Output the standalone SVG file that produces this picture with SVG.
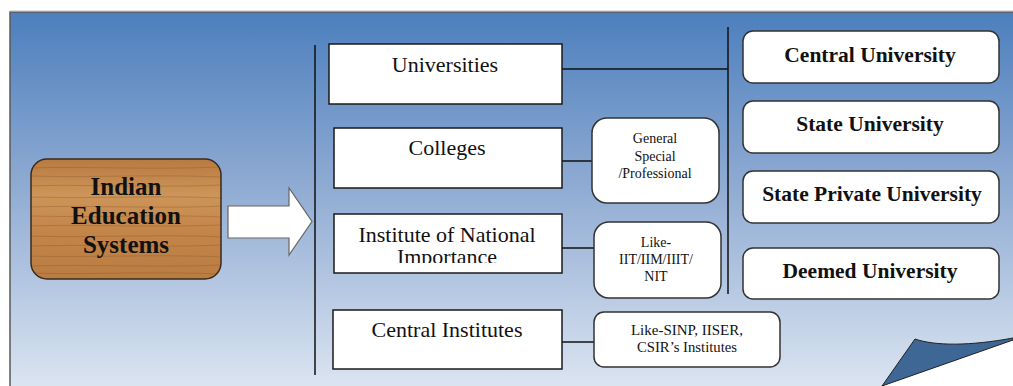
<svg xmlns="http://www.w3.org/2000/svg" width="1013" height="386" viewBox="0 0 1013 386">
<defs>
<linearGradient id="bg" x1="0" y1="0" x2="0" y2="1">
<stop offset="0" stop-color="#4c7fbd"/>
<stop offset="0.45" stop-color="#8eaad2"/>
<stop offset="1" stop-color="#dde6f2"/>
</linearGradient>
<linearGradient id="wood" x1="0" y1="0" x2="0" y2="1">
<stop offset="0" stop-color="#b87a40"/>
<stop offset="0.3" stop-color="#cd9559"/>
<stop offset="0.6" stop-color="#c48549"/>
<stop offset="1" stop-color="#b97c42"/>
</linearGradient>
<clipPath id="woodclip"><rect x="31" y="159" width="190" height="120" rx="16"/></clipPath>
<clipPath id="iniclip"><rect x="334" y="214" width="228" height="49"/></clipPath>
<style>
.rect{fill:#fff;stroke:#1a1a1a;stroke-width:1.5}
.rbox{fill:#fff;stroke:#333;stroke-width:1.5}
.conn{stroke:#111;stroke-width:1.5;fill:none}
.t{font-family:'Liberation Serif','Times New Roman','DejaVu Serif',serif;fill:#111;text-anchor:middle}
.big{font-size:22px}
.small{font-size:14px}
.bold{font-weight:bold;font-size:21.5px}
.grain{stroke:#8a5528;stroke-opacity:0.35;stroke-width:1;fill:none}
</style>
</defs>
<rect width="1013" height="386" fill="#fff"/>
<rect x="10" y="12" width="1010" height="380" fill="url(#bg)" stroke="#5a5a5a" stroke-width="1.5"/>
<line x1="10" y1="11" x2="1013" y2="11" stroke="#bbb" stroke-width="1"/>
<path d="M882,386 L1013,340 L1013,386 Z" fill="#fff"/>
<path d="M882,386 L915,339 C935,346 970,346 1013,338 L1013,340 Z" fill="#3e6796" stroke="#222" stroke-width="1"/>

<g id="connectors">
<line class="conn" x1="315" y1="45" x2="315" y2="375"/>
<line class="conn" x1="728" y1="27" x2="728" y2="294"/>
<line class="conn" x1="562" y1="69" x2="728" y2="69"/>
<line class="conn" x1="562" y1="161" x2="592" y2="161"/>
<line class="conn" x1="562" y1="248" x2="594" y2="248"/>
<line class="conn" x1="562" y1="342" x2="594" y2="342"/>
<path d="M228,206 L289,206 L289,188 L312,221.5 L289,255 L289,238 L228,238 Z" fill="#fff" stroke="#666" stroke-width="1.2"/>
</g>

<g id="indian-education">
<rect x="31" y="159" width="190" height="120" rx="16" fill="url(#wood)"/>
<g clip-path="url(#woodclip)" class="grain">
<path d="M31,168 C80,166 140,170 221,167"/>
<path d="M31,176 C90,178 150,174 221,177"/>
<path d="M31,186 C70,184 160,188 221,185"/>
<path d="M31,197 C100,199 150,195 221,198"/>
<path d="M31,207 C80,205 170,209 221,206"/>
<path d="M31,216 C110,218 150,214 221,217"/>
<path d="M31,226 C90,224 140,228 221,225"/>
<path d="M31,236 C80,238 170,234 221,237"/>
<path d="M31,246 C120,244 150,248 221,245"/>
<path d="M31,256 C70,258 160,254 221,257"/>
<path d="M31,266 C100,264 150,268 221,265"/>
<path d="M31,273 C90,275 140,271 221,274"/>
</g>
<rect x="31" y="159" width="190" height="120" rx="16" fill="none" stroke="#3b2a1a" stroke-width="1.5"/>
<text class="t" x="126" y="195" font-size="25" font-weight="bold">Indian</text>
<text class="t" x="126" y="224" font-size="25" font-weight="bold">Education</text>
<text class="t" x="126" y="253" font-size="25" font-weight="bold">Systems</text>
</g>

<g id="universities">
<rect class="rect" x="329" y="44" width="233" height="60"/>
<text class="t big" x="445" y="72">Universities</text>
</g>
<g id="colleges">
<rect class="rect" x="334" y="128" width="228" height="60"/>
<text class="t big" x="447" y="155">Colleges</text>
</g>
<g id="ini">
<rect class="rect" x="334" y="214" width="228" height="59"/>
<text class="t big" x="447" y="242">Institute of National</text>
<text class="t big" x="447" y="264" clip-path="url(#iniclip)">Importance</text>
</g>
<g id="central-institutes">
<rect class="rect" x="333" y="310" width="229" height="59"/>
<text class="t big" x="447" y="337">Central Institutes</text>
</g>

<g id="college-types">
<rect class="rbox" x="592" y="118" width="127" height="85" rx="15"/>
<text class="t small" x="655" y="143">General</text>
<text class="t small" x="655" y="161">Special</text>
<text class="t small" x="655" y="178">/Professional</text>
</g>
<g id="ini-examples">
<rect class="rbox" x="594" y="222" width="127" height="76" rx="15"/>
<text class="t small" x="656" y="247">Like-</text>
<text class="t small" x="656" y="264">IIT/IIM/IIIT/</text>
<text class="t small" x="656" y="281">NIT</text>
</g>
<g id="ci-examples">
<rect class="rbox" x="594" y="312" width="186" height="55" rx="10"/>
<text class="t" x="687" y="335" font-size="15">Like-SINP, IISER,</text>
<text class="t" x="687" y="352" font-size="14.7">CSIR’s Institutes</text>
</g>

<g id="central-university">
<rect class="rbox" x="743" y="31" width="256" height="52" rx="10"/>
<text class="t bold" x="870" y="62">Central University</text>
</g>
<g id="state-university">
<rect class="rbox" x="743" y="101" width="256" height="52" rx="10"/>
<text class="t bold" x="870" y="131">State University</text>
</g>
<g id="state-private-university">
<rect class="rbox" x="743" y="171" width="256" height="52" rx="10"/>
<text class="t bold" x="872" y="201">State Private University</text>
</g>
<g id="deemed-university">
<rect class="rbox" x="743" y="248" width="256" height="51" rx="10"/>
<text class="t bold" x="870" y="278">Deemed University</text>
</g>
</svg>
